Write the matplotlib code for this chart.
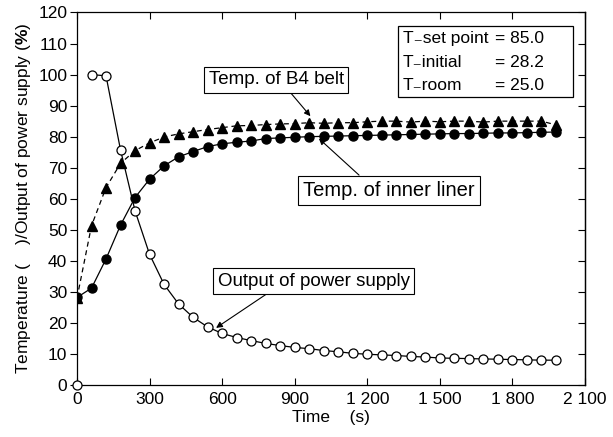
import matplotlib
matplotlib.use("Agg")
import matplotlib.pyplot as plt
from matplotlib.patches import Rectangle
from matplotlib.ticker import FuncFormatter, MultipleLocator

plt.rcParams['font.family'] = ['Liberation Sans', 'DejaVu Sans']
plt.rcParams['mathtext.fontset'] = 'custom'
plt.rcParams['mathtext.rm'] = 'Liberation Sans'
plt.rcParams['mathtext.bf'] = 'Liberation Sans:bold'

# time (s)
time_s = [0, 60, 120, 180, 240, 300, 360, 420, 480, 540, 600, 660, 720, 780,
          840, 900, 960, 1020, 1080, 1140, 1200, 1260, 1320, 1380, 1440, 1500,
          1560, 1620, 1680, 1740, 1800, 1860, 1920, 1980]

# output of power supply (%)
power = [0, 100, 99.6, 75.7, 56.1, 42.1, 32.4, 26.1, 21.8, 18.7, 16.6, 15.3,
         14.3, 13.4, 12.7, 12.1, 11.7, 11.1, 10.7, 10.2, 9.9, 9.7, 9.5, 9.2,
         9.0, 8.7, 8.6, 8.5, 8.4, 8.3, 8.2, 8.1, 8.0, 8.0]

# temp. of inner liner
liner = [28.2, 31.2, 40.6, 51.5, 60.4, 66.3, 70.6, 73.5, 75.2, 76.8, 77.7,
         78.2, 78.6, 79.4, 79.6, 79.8, 80.0, 80.1, 80.2, 80.3, 80.4, 80.5,
         80.6, 80.7, 80.8, 80.9, 81.0, 81.0, 81.1, 81.2, 81.2, 81.3, 81.4, 81.5]

# temp. of B4 belt
belt = [28.0, 51.3, 63.6, 71.4, 75.5, 78.0, 79.9, 80.9, 81.6, 82.3, 82.9,
        83.5, 83.6, 83.9, 84.1, 84.2, 84.5, 84.3, 84.5, 84.5, 84.8, 85.0,
        85.0, 84.7, 85.0, 84.8, 85.0, 85.0, 84.7, 85.0, 85.0, 85.0, 85.0, 83.8]

info_names = ['T\u208bset point', 'T\u208binitial', 'T\u208broom']
info_values = ['= 85.0', '= 28.2', '= 25.0']

fig = plt.figure(figsize=(6.13, 4.37), dpi=100)
ax = fig.add_axes([0.1256, 0.119, 0.8287, 0.8524])

ax.plot(time_s, belt, color='black', lw=0.9, ls=(0, (4, 3)), marker='^',
        ms=6.5, mfc='black', mec='black', zorder=3)
ax.plot(time_s, liner, color='black', lw=0.9, marker='o', ms=6.5,
        mfc='black', mec='black', zorder=3)
# first power reading (power off) is not joined to the rest
ax.plot(time_s[1:], power[1:], color='black', lw=0.9, marker='o', ms=6.5,
        mfc='white', mec='black', mew=0.9, zorder=4)
ax.plot(time_s[:1], power[:1], ls='none', marker='o', ms=6.5,
        mfc='white', mec='black', mew=0.9, zorder=4, clip_on=False)

ax.set_xlim(0, 2100)
ax.set_ylim(0, 120)
ax.xaxis.set_major_locator(MultipleLocator(300))
ax.yaxis.set_major_locator(MultipleLocator(10))
ax.xaxis.set_major_formatter(FuncFormatter(lambda v, p: f"{int(v):,}".replace(",", " ")))

ax.tick_params(axis='x', direction='in', top=True, length=5, width=0.8,
               labelsize=12.5, pad=5)
ax.tick_params(axis='y', which='both', left=True, right=False, direction='out',
               length=5, width=0.8, labelsize=12.5, pad=2)
sec = ax.secondary_yaxis('right')
sec.yaxis.set_major_locator(MultipleLocator(10))
sec.tick_params(direction='in', length=5, width=0.8, labelright=False)
for s in ax.spines.values():
    s.set_linewidth(0.9)
sec.spines['right'].set_linewidth(0.9)

ax.set_xlabel('Time    (s)', fontsize=12.5, labelpad=2)
ax.set_ylabel(r'Temperature (    )/Output of power supply ($\mathbf{\%}$)',
              fontsize=12.5, labelpad=4)

box = dict(boxstyle='square,pad=0.25', fc='white', ec='black', lw=0.8)
arrow = dict(arrowstyle='-|>', color='black', lw=0.8, mutation_scale=9,
             shrinkA=0, shrinkB=0)

ax.annotate('Temp. of B4 belt', xy=(965, 86.6), xytext=(823, 98.3),
            fontsize=13.5, ha='center', va='center', bbox=box,
            arrowprops=dict(arrow, relpos=(0.58, 0.0)), zorder=5)
ax.annotate('Temp. of inner liner', xy=(1000, 79.4), xytext=(1290, 62.8),
            fontsize=14.5, ha='center', va='center', bbox=box,
            arrowprops=dict(arrow, relpos=(0.36, 1.0)), zorder=5)
ax.annotate('Output of power supply', xy=(575, 18.4), xytext=(978, 33.5),
            fontsize=13.5, ha='center', va='center', bbox=box,
            arrowprops=dict(arrow, relpos=(0.29, 0.0)), zorder=5)

ax.add_patch(Rectangle((0.632, 0.774), 0.344, 0.191, transform=ax.transAxes,
                       fc='white', ec='black', lw=0.9, zorder=5))
for i, (n, v) in enumerate(zip(info_names, info_values)):
    y = 0.929 - i * 0.062
    ax.text(0.642, y, n, transform=ax.transAxes, fontsize=12.5,
            va='center', ha='left', zorder=6)
    ax.text(0.823, y, v, transform=ax.transAxes, fontsize=12.5,
            va='center', ha='left', zorder=6)

fig.savefig('out.png', dpi=100)
